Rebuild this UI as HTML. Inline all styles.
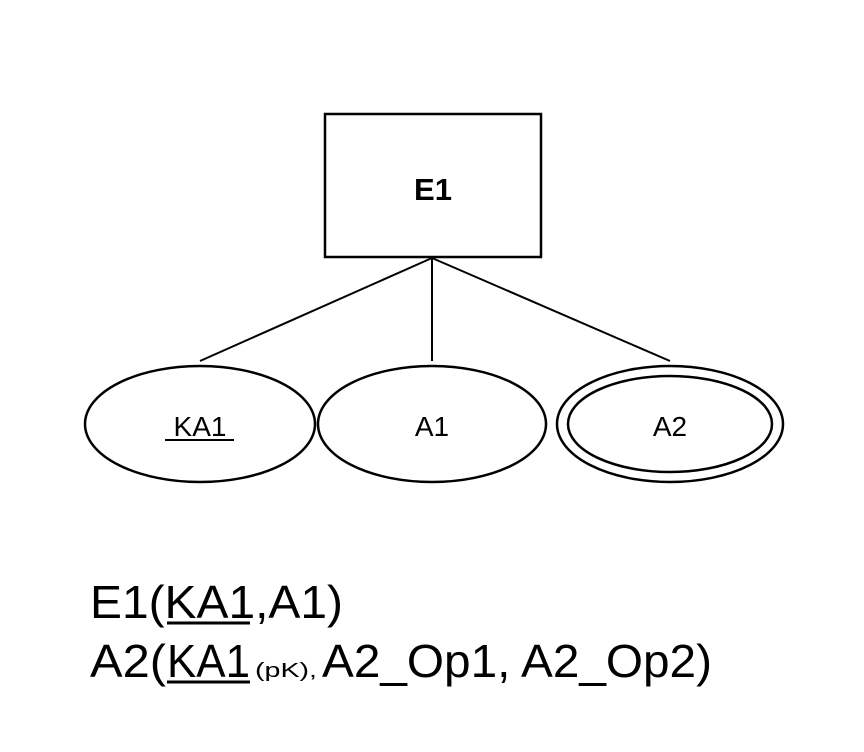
<!DOCTYPE html>
<html><head><style>
html,body{margin:0;padding:0;background:#fff;}
svg{display:block}
text{font-family:"Liberation Sans",Arial,sans-serif;fill:#000}
</style></head><body>
<svg width="864" height="752" xmlns="http://www.w3.org/2000/svg">
<rect x="325" y="114" width="216" height="143" fill="#fff" stroke="#000" stroke-width="2.5"/>
<text x="433" y="200" font-size="31" font-weight="bold" text-anchor="middle">E1</text>
<g stroke="#000" stroke-width="2" fill="none">
<line x1="432" y1="258" x2="200" y2="361"/>
<line x1="432" y1="258" x2="432" y2="361"/>
<line x1="432" y1="258" x2="670" y2="361"/>
</g>
<g stroke="#000" stroke-width="2.5" fill="none">
<ellipse cx="200" cy="424" rx="115" ry="58" fill="#fff"/>
<ellipse cx="432" cy="424" rx="114" ry="58" fill="#fff"/>
<ellipse cx="670" cy="424" rx="113" ry="58" fill="#fff"/>
<ellipse cx="670" cy="424" rx="102" ry="48"/>
</g>
<text x="200" y="436" font-size="28" text-anchor="middle">KA1</text>
<line x1="165" y1="440" x2="234" y2="440" stroke="#000" stroke-width="2"/>
<text x="432" y="436" font-size="28" text-anchor="middle">A1</text>
<text x="670" y="436" font-size="28" text-anchor="middle">A2</text>
<text x="90" y="618" font-size="46" textLength="253" lengthAdjust="spacingAndGlyphs">E1(KA1,A1)</text>
<line x1="167" y1="623" x2="250" y2="623" stroke="#000" stroke-width="3"/>
<text x="90" y="677" font-size="46" textLength="76" lengthAdjust="spacingAndGlyphs">A2(</text>
<text x="167" y="677" font-size="46" textLength="83" lengthAdjust="spacingAndGlyphs">KA1</text>
<text x="255" y="677" font-size="20" textLength="62" lengthAdjust="spacingAndGlyphs">(pK),</text>
<text x="322" y="677" font-size="46" textLength="390" lengthAdjust="spacingAndGlyphs">A2_Op1, A2_Op2)</text>
<line x1="167" y1="682" x2="250" y2="682" stroke="#000" stroke-width="3"/>
</svg>
</body></html>
